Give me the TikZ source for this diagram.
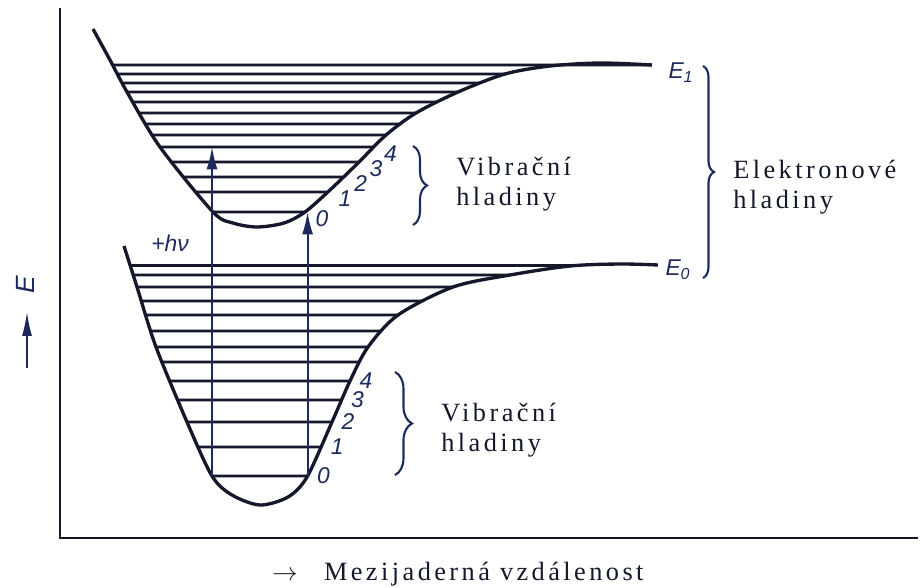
\documentclass[tikz,border=0pt]{standalone}
\usepackage{fontspec}
\setmainfont{Liberation Serif}
\newfontfamily\labelfont[LetterSpace=13]{Liberation Serif}
\newfontfamily\numfont{Liberation Sans}
\usepackage{tikz}
\usetikzlibrary{arrows.meta, decorations.pathreplacing, intersections}
\definecolor{ink}{HTML}{15182A}
\definecolor{navy}{HTML}{1E2A5C}
\tikzset{
  axis line/.style={line width=1.7pt, ink},
  potential/.style={line width=1.9pt, ink, line join=round},
  vibline/.style={line width=1.5pt, ink},
  photon/.style={
    -{Latex[length=4.5mm, width=2.2mm]},
    line width=1.1pt,
    navy
  },
  vbrace/.style={decorate, decoration={brace, amplitude=#1}, line width=1.2pt, navy},
  vbrace/.default=0.28cm,
  caption/.style={
    font=\labelfont\fontsize{15}{17}\selectfont,
    align=left, inner sep=0pt, ink
  },
  qnum/.style={font=\numfont\itshape\fontsize{13}{14}\selectfont, navy, inner sep=0pt}
}

\begin{document}
\begin{tikzpicture}[x=0.02cm, y=-0.02cm]
  \useasboundingbox (0,0) rectangle (920,588);

  % Axes
  \coordinate (ytop) at (60,8);
  \coordinate (origin) at (60,538);
  \coordinate (xend) at (918,538);
  \draw[axis line] (ytop) -- (origin) -- (xend);
  \node[caption, anchor=base west] (xlabel) at (272,580) {$\rightarrow$\quad Mezijaderná vzdálenost};
  \node[qnum, font=\numfont\itshape\fontsize{15}{16}\selectfont, rotate=90] (ylabel) at (25,285) {E};
  \coordinate (yarr-tail) at (27,368);
  \coordinate (yarr-tip) at (27,311);
  \draw[-{Latex[length=5mm, width=2mm]}, line width=1.3pt, navy] (yarr-tail) -- (yarr-tip);

  % Potential curves
  \draw[potential, name path=pot-up] plot[smooth] coordinates {(93,29) (110,60) (127,92)
      (160,147) (213,212) (233,223) (257,227) (284,223) (305,212) (330,190) (359,162)
      (386,135) (416,113) (458,92) (505,74) (550,66) (600,63) (652,65)};
  \draw[potential, name path=pot-lo] plot[smooth] coordinates {(124,246) (137,287)
      (156,347) (187,422) (212,476) (232,495) (260,505) (288,497) (307,477) (332,422)
      (350,381) (368,347) (398,315) (453,287) (510,275) (570,266) (620,264) (658,265)};

  % Vibrational levels (0 = lowest)
  \foreach \i/\y in {0/212, 1/192, 2/177, 3/162, 4/147, 5/135, 6/124, 7/113, 8/102,
      9/92, 10/83, 11/74, 12/65}{
    \path[name path=hl] (70,\y) -- (700,\y);
    \path[name intersections={of=pot-up and hl, sort by=hl, total=\t}]
      (intersection-1) coordinate (up-l-\i) (intersection-\t) coordinate (up-r-\i);
    \draw[vibline] (up-l-\i) -- (up-r-\i);
  }
  \foreach \i/\y in {0/476, 1/447, 2/422, 3/400, 4/381, 5/362, 6/347, 7/331, 8/315,
      9/301, 10/287, 11/275, 12/265.5}{
    \path[name path=hl] (70,\y) -- (700,\y);
    \path[name intersections={of=pot-lo and hl, sort by=hl, total=\t}]
      (intersection-1) coordinate (lo-l-\i) (intersection-\t) coordinate (lo-r-\i);
    \draw[vibline] (lo-l-\i) -- (lo-r-\i);
  }

  % Quantum numbers
  \foreach \i in {0,...,4}{
    \node[qnum] (up-n-\i) at ([shift={(17,7)}]up-r-\i) {\i};
    \node[qnum] (lo-n-\i) at ([shift={(16,0)}]lo-r-\i) {\i};
  }
  \node[qnum] (e1) at (681,73) {E\textsubscript{1}};
  \node[qnum] (e0) at (678,270) {E\textsubscript{0}};

  % Absorption
  \draw[photon] (lo-l-0) -- (lo-l-0 |- up-l-4);
  \draw[photon] (lo-r-0) -- (lo-r-0 |- up-r-0);
  \node[qnum] (hnu) at (170,243) {+hν};

  % Braces
  \coordinate (ub-top) at (413,146);
  \coordinate (ub-bot) at (413,225);
  \coordinate (lb-top) at (395,372);
  \coordinate (lb-bot) at (395,475);
  \coordinate (eb-top) at (703,66);
  \coordinate (eb-bot) at (703,278);
  \draw[vbrace] (ub-top) -- (ub-bot);
  \draw[vbrace=0.34cm] (lb-top) -- (lb-bot);
  \draw[vbrace=0.22cm] (eb-top) -- (eb-bot);
  \node[caption, anchor=west] (vib-up) at (456,184) {Vibrační\\hladiny};
  \node[caption, anchor=west] (vib-lo) at (441,430) {Vibrační\\hladiny};
  \node[caption, anchor=west] (elek) at (733,187) {Elektronové\\hladiny};
\end{tikzpicture}
\end{document}
